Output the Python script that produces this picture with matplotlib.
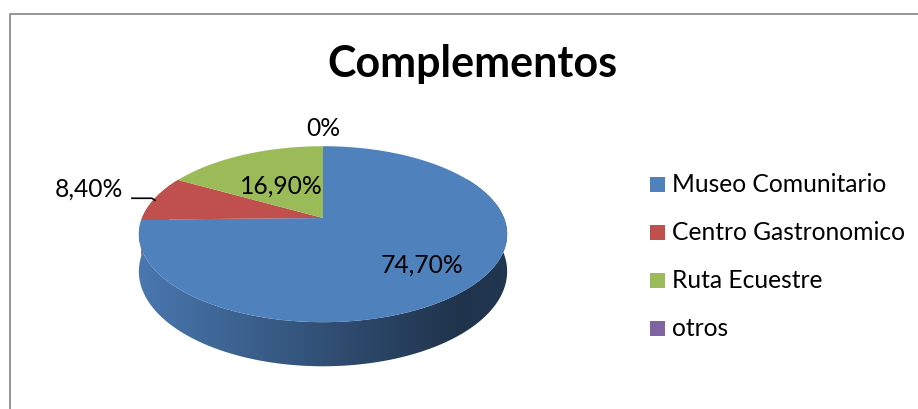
import numpy as np
import matplotlib.pyplot as plt
from matplotlib.patches import Polygon, Rectangle
from matplotlib.colors import to_rgb

categories = ["Museo Comunitario", "Centro Gastronomico", "Ruta Ecuestre", "otros"]
shares = [74.7, 8.4, 16.9, 0.0]
colors = ["#4f81bd", "#c0504d", "#9bbb59", "#8064a2"]
title = "Complementos"

plt.rcParams["font.family"] = ["Lato", "DejaVu Sans"]

# tilted disc in pixel space (y grows downward)
cx, cy = 323, 219
rx, ry = 181, 85
persp = 0.184
depth = 36


def project(theta, r=1.0, drop=0.0):
    # theta in degrees, clockwise from 12 o'clock
    t = np.radians(theta)
    x = r * np.sin(t)
    y = r * np.cos(t)
    k = 1.0 / (1.0 + persp * y)
    return cx + rx * x * k, cy - ry * y * k + drop * k


def pct(v):
    if v == 0:
        return "0%"
    return f"{v:.2f}".replace(".", ",") + "%"


fig = plt.figure(figsize=(9.18, 4.10), dpi=100)
ax = fig.add_axes([0, 0, 1, 1])
ax.set_xlim(0, 918)
ax.set_ylim(410, 0)
ax.axis("off")

# chart frame
ax.plot([9.5, 9.5, 918], [410, 15, 15], color="#8c8c8c", lw=1.3, solid_capstyle="butt")

ax.text(472, 77, title, ha="center", va="baseline", fontsize=31, fontweight="bold")

total = sum(shares)
starts = np.cumsum([0] + shares[:-1]) / total * 360
ends = np.cumsum(shares) / total * 360

# side wall of the front half, shaded left to right
shade_x = [-1.0, 0.0, 0.75, 1.0]
shade_f = [0.92, 0.62, 0.40, 0.42]
for s, e, c in zip(starts, ends, colors):
    a0, a1 = max(s, 60), min(e, 300)
    if a1 <= a0:
        continue
    th = np.linspace(a0, a1, 200)
    tx, ty = project(th)
    bx, by = project(th, drop=depth)
    pts = np.column_stack([np.concatenate([tx, bx[::-1]]), np.concatenate([ty, by[::-1]])])
    wall = Polygon(pts, closed=True, facecolor="none", edgecolor="none")
    ax.add_patch(wall)
    xs = np.linspace(cx - rx * 1.05, cx + rx * 1.05, 400)
    f = np.interp((xs - cx) / rx, shade_x, shade_f)
    img = np.array(to_rgb(c))[None, None, :] * f[None, :, None]
    im = ax.imshow(img, extent=(xs[0], xs[-1], by.max() + 2, ty.min() - 2),
                   aspect="auto", interpolation="bilinear", zorder=1)
    im.set_clip_path(wall)

# top face
for s, e, c in zip(starts, ends, colors):
    if e - s <= 0:
        continue
    th = np.linspace(s, e, max(int(e - s) * 2, 4))
    px, py = project(th)
    pts = np.column_stack([np.r_[cx, px], np.r_[cy, py]])
    ax.add_patch(Polygon(pts, closed=True, facecolor=c, edgecolor="none", zorder=2))

# data labels
lab_fs = 17.7
for v, s, e in zip(shares, starts, ends):
    mid = (s + e) / 2
    if v == 0:
        ex, ey = project(mid)
        ax.text(ex, ey - 11, pct(v), ha="center", va="baseline", fontsize=lab_fs, zorder=3)
    elif v < 10:
        ex, ey = project(mid)
        ax.plot([ex - 23, ex - 3, ex], [ey, ey, ey + 2], color="black", lw=1.2, zorder=3)
        ax.text(ex - 32, ey - 3, pct(v), ha="right", va="baseline", fontsize=lab_fs, zorder=3)
    else:
        r = 0.70 if v > 50 else 0.49
        lx, ly = project(mid, r=r)
        ax.text(lx, ly, pct(v), ha="center", va="center", fontsize=lab_fs, zorder=3)

# legend
for i, (name, c) in enumerate(zip(categories, colors)):
    y = 185 + 48 * i
    ax.add_patch(Rectangle((650, y - 7.5), 15, 15, facecolor=c, edgecolor="none"))
    ax.text(672, y, name, ha="left", va="center", fontsize=lab_fs)

fig.savefig("out.png", dpi=100)
